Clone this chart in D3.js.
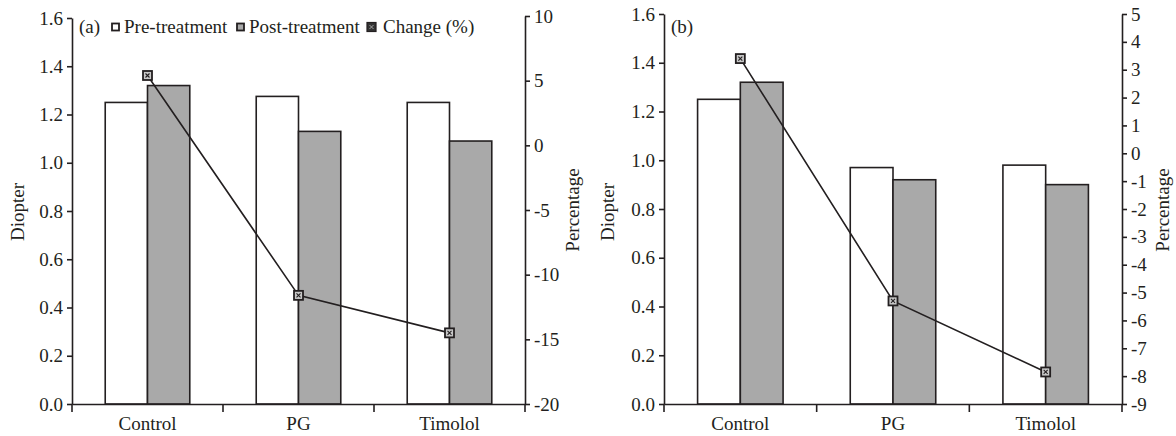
<!DOCTYPE html>
<html>
<head>
<meta charset="utf-8">
<script src="https://cdn.jsdelivr.net/npm/d3@7"></script>
<style>
  body { margin: 0; background: #fff; }
  svg { display: block; }
  svg text { font-family: "Times New Roman", "Liberation Serif", Times, "DejaVu Serif", serif !important; fill: #231f20; }
</style>
</head>
<body>
<div id="chart"></div>
<script>
// values
var groups = ["Control", "PG", "Timolol"];

var preA = [1.25, 1.275, 1.25];
var postA = [1.32, 1.13, 1.09];
var changeA = [5.4, -11.6, -14.5];

var preB = [1.25, 0.97, 0.98];
var postB = [1.32, 0.92, 0.90];
var changeB = [3.4, -5.3, -7.85];

var diopterTicks = [0, 0.2, 0.4, 0.6, 0.8, 1.0, 1.2, 1.4, 1.6];
var pctTicksA = [-20, -15, -10, -5, 0, 5, 10];
var pctTicksB = [-9, -8, -7, -6, -5, -4, -3, -2, -1, 0, 1, 2, 3, 4, 5];

var legendLabels = ["Pre-treatment", "Post-treatment", "Change (%)"];

var W = 1176, H = 436;
var ink = "#231f20";
var grey = "#a9a9a9";
var fs = 19;

var svg = d3.select("#chart").append("svg")
	.attr("width", W)
	.attr("height", H);

function marker(sel, x, y) {
	var m = sel.append("g").attr("transform", "translate(" + x + "," + y + ")");
	m.append("rect")
		.attr("x", -4.5).attr("y", -4.5)
		.attr("width", 9).attr("height", 9)
		.attr("fill", "#c8c8c8")
		.attr("stroke", ink)
		.attr("stroke-width", 1.8);
	m.append("path")
		.attr("d", "M-2,-2L2,2M-2,2L2,-2")
		.attr("stroke", ink)
		.attr("stroke-width", 1.1);
}

function drawPanel(p) {
	var g = svg.append("g");
	var bottom = 404;

	var x = d3.scaleBand().domain(groups).range([p.left, p.right]);
	var yL = d3.scaleLinear().domain([0, 1.6]).range([bottom, p.topL]);
	var yR = d3.scaleLinear().domain(p.pctDomain).range([bottom, p.topR]);
	var bw = x.bandwidth() * 0.28;

	// bars
	var bars = g.append("g");
	groups.forEach(function(c, i) {
		var cx = x(c) + x.bandwidth() / 2;
		bars.append("rect")
			.attr("x", cx - bw).attr("y", yL(p.pre[i]))
			.attr("width", bw).attr("height", bottom - yL(p.pre[i]))
			.attr("fill", "#fff").attr("stroke", ink).attr("stroke-width", 1.6);
		bars.append("rect")
			.attr("x", cx).attr("y", yL(p.post[i]))
			.attr("width", bw).attr("height", bottom - yL(p.post[i]))
			.attr("fill", grey).attr("stroke", ink).attr("stroke-width", 1.6);
	});

	// change line
	var pts = groups.map(function(c, i) {
		return [x(c) + x.bandwidth() / 2, yR(p.change[i])];
	});
	g.append("path")
		.attr("d", d3.line()(pts))
		.attr("fill", "none")
		.attr("stroke", ink)
		.attr("stroke-width", 1.6);
	pts.forEach(function(pt) { marker(g, pt[0], pt[1]); });

	// axes
	var axL = g.append("g")
		.attr("transform", "translate(" + p.left + ",0)")
		.call(d3.axisLeft(yL).tickValues(diopterTicks).tickFormat(d3.format(".1f"))
			.tickSize(5).tickPadding(4).tickSizeOuter(0));
	var axR = g.append("g")
		.attr("transform", "translate(" + p.right + ",0)")
		.call(d3.axisRight(yR).tickValues(p.pctTicks).tickFormat(function(d) { return String(d); })
			.tickSize(5).tickPadding(4).tickSizeOuter(0));
	var axB = g.append("g")
		.attr("transform", "translate(0," + bottom + ")")
		.call(d3.axisBottom(x).tickSize(0).tickPadding(13).tickSizeOuter(0));

	// category boundary ticks
	var edges = groups.map(function(c) { return x(c); }).concat([p.right]);
	axB.selectAll("line.edge")
		.data(edges)
		.enter().append("line")
		.attr("class", "edge")
		.attr("x1", function(d) { return d; }).attr("x2", function(d) { return d; })
		.attr("y1", 0).attr("y2", 8)
		.attr("stroke", ink).attr("stroke-width", 1.6);

	[axL, axR, axB].forEach(function(a) {
		a.attr("font-family", null);
		a.selectAll(".domain").attr("stroke", ink).attr("stroke-width", 1.6);
		a.selectAll(".tick line").attr("stroke", ink).attr("stroke-width", 1.6);
		a.selectAll("text")
			.attr("font-size", fs)
			.attr("fill", ink);
	});

	// axis titles
	g.append("text")
		.attr("transform", "translate(" + (p.left - p.diopTitleOff) + ",212) rotate(-90)")
		.attr("text-anchor", "middle")
		.attr("font-size", fs)
		.text("Diopter");
	g.append("text")
		.attr("transform", "translate(" + (p.right + p.pctTitleOff) + ",210) rotate(-90)")
		.attr("text-anchor", "middle")
		.attr("font-size", fs)
		.text("Percentage");

	// panel tag
	g.append("text")
		.attr("x", p.left + 7).attr("y", 33)
		.attr("font-size", fs)
		.text(p.tag);

	return g;
}

var ga = drawPanel({
	left: 72, right: 525, topL: 18, topR: 16,
	pre: preA, post: postA, change: changeA,
	pctDomain: [-20, 10], pctTicks: pctTicksA,
	diopTitleOff: 48, pctTitleOff: 54, tag: "(a)"
});

drawPanel({
	left: 664, right: 1122, topL: 14, topR: 14,
	pre: preB, post: postB, change: changeB,
	pctDomain: [-9, 5], pctTicks: pctTicksB,
	diopTitleOff: 50, pctTitleOff: 47, tag: "(b)"
});

// legend in panel (a)
var lg = ga.append("g").attr("transform", "translate(0,27)");
var lx = [112, 237, 367];
lg.append("rect").attr("x", lx[0]).attr("y", -3.5).attr("width", 7).attr("height", 7)
	.attr("fill", "#fff").attr("stroke", ink).attr("stroke-width", 1.8);
lg.append("rect").attr("x", lx[1]).attr("y", -3.5).attr("width", 7).attr("height", 7)
	.attr("fill", grey).attr("stroke", ink).attr("stroke-width", 1.8);
lg.append("rect").attr("x", lx[2]).attr("y", -4.5).attr("width", 9).attr("height", 9)
	.attr("fill", "#333").attr("stroke", ink).attr("stroke-width", 1.2);
lg.append("path").attr("d", "M" + (lx[2] + 2.5) + ",-2L" + (lx[2] + 6.5) + ",2M" + (lx[2] + 2.5) + ",2L" + (lx[2] + 6.5) + ",-2")
	.attr("stroke", "#bbb").attr("stroke-width", 0.8);
legendLabels.forEach(function(t, i) {
	lg.append("text")
		.attr("x", lx[i] + (i === 2 ? 16 : 12)).attr("y", 6)
		.attr("font-size", fs)
		.text(t);
});
</script>
</body>
</html>
